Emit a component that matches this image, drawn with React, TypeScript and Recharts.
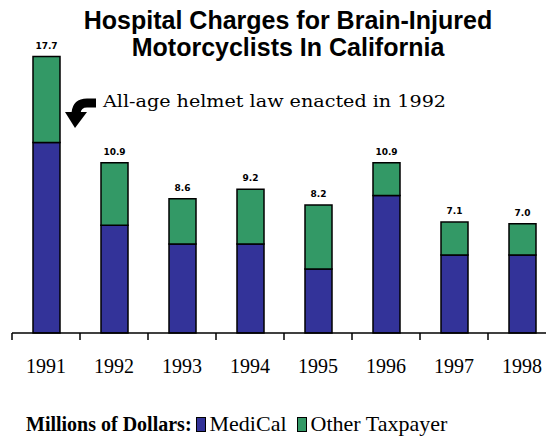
import React from 'react';
import { BarChart, Bar, XAxis, YAxis, LabelList, Customized } from 'recharts';

const years = ['1991', '1992', '1993', '1994', '1995', '1996', '1997', '1998'];
const mediCal = [12.2, 6.9, 5.7, 5.7, 4.1, 8.8, 5.0, 5.0];
const otherTaxpayer = [5.5, 4.0, 2.9, 3.5, 4.1, 2.1, 2.1, 2.0];
const totals = ['17.7', '10.9', '8.6', '9.2', '8.2', '10.9', '7.1', '7.0'];

const BLUE = '#333399';
const GREEN = '#339966';

const chartData = years.map((year, i) => ({
  year,
  mediCal: mediCal[i],
  other: otherTaxpayer[i],
  total: totals[i],
}));

// label under each bar + tick mark on the left edge of the band
const YearTick = (props: any) => {
  const { x, y, payload } = props;
  const half = 34;
  return (
    <g>
      <line x1={x - half} x2={x - half} y1={y} y2={y + 7} stroke="#000" strokeWidth={1.5} />
      <text x={x} y={y + 40} textAnchor="middle" fontFamily="Liberation Serif" fontSize={20} fill="#000">
        {payload.value}
      </text>
    </g>
  );
};

const Annotation = () => (
  <g>
    <path d="M96 103 L87 103 Q77 103 76 113" fill="none" stroke="#000" strokeWidth={9} />
    <polygon points="65,112 87,112 75,128" fill="#000" />
    <text x={103} y={107} fontFamily="DejaVu Serif" fontSize={16} fill="#000" textLength={343} lengthAdjust="spacingAndGlyphs">
      All-age helmet law enacted in 1992
    </text>
  </g>
);

const Swatch = ({ color }: { color: string }) => (
  <span style={{ display: 'inline-block', width: 8, height: 13, background: color, border: '1px solid #000' }} />
);

export default function App() {
  return (
    <div style={{ position: 'absolute', left: 0, top: 0, width: 546, height: 438, overflow: 'hidden', background: '#fff' }}>
      <div
        style={{
          position: 'absolute',
          left: 0,
          top: 7,
          width: 576,
          textAlign: 'center',
          fontFamily: 'Liberation Sans, Arial',
          fontWeight: 'bold',
          fontSize: 25,
          lineHeight: '27px',
          color: '#000',
        }}
      >
        Hospital Charges for Brain-Injured
        <br />
        Motorcyclists In California
      </div>
      <BarChart width={560} height={438} data={chartData} margin={{ top: 30, left: 12, right: 4, bottom: 75 }}>
        <YAxis width={0} domain={[0, 19.4]} tick={false} tickLine={false} axisLine={{ stroke: '#999', strokeWidth: 1.5 }} />
        <XAxis
          dataKey="year"
          height={30}
          tickSize={0}
          tickMargin={0}
          tickLine={false}
          axisLine={{ stroke: '#000', strokeWidth: 1.5 }}
          tick={<YearTick />}
          interval={0}
        />
        <Bar dataKey="mediCal" stackId="a" fill={BLUE} stroke="#000" strokeWidth={1.5} barSize={27} isAnimationActive={false} />
        <Bar dataKey="other" stackId="a" fill={GREEN} stroke="#000" strokeWidth={1.5} barSize={27} isAnimationActive={false}>
          <LabelList dataKey="total" position="top" offset={8} fontFamily="DejaVu Sans" fontWeight="bold" fontSize={9} fill="#000" />
        </Bar>
        <Customized component={Annotation} />
      </BarChart>
      <div
        style={{
          position: 'absolute',
          left: 26,
          top: 411,
          display: 'flex',
          alignItems: 'center',
          fontFamily: 'Liberation Serif',
          fontSize: 22,
          color: '#000',
          whiteSpace: 'nowrap',
        }}
      >
        <span style={{ fontWeight: 'bold', fontSize: 20, marginRight: 4 }}>Millions of Dollars:</span>
        <Swatch color={BLUE} />
        <span style={{ marginLeft: 4, marginRight: 10 }}>MediCal</span>
        <Swatch color={GREEN} />
        <span style={{ marginLeft: 4 }}>Other Taxpayer</span>
      </div>
    </div>
  );
}
